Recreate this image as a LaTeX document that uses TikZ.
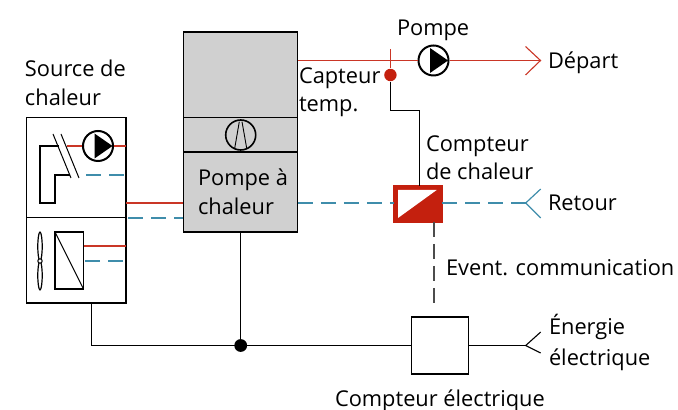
\documentclass[tikz,border=0pt]{standalone}
\usepackage{fontspec}
\setmainfont{Open Sans}
\usetikzlibrary{arrows,shapes,positioning}

\definecolor{heatred}{HTML}{C4200E}
\definecolor{lineblue}{HTML}{3F8DAB}
\definecolor{unitgray}{HTML}{D0D0D0}

\tikzset{
  box/.style={draw, line width=.65pt, inner sep=0pt, outer sep=0pt, anchor=north west},
  label/.style={inner sep=0pt, outer sep=0pt, anchor=base west, align=left,
    font=\fontsize{10.9}{14.5}\selectfont},
  pump/.style={draw, circle, fill=white, line width=1pt, minimum size=15pt, inner sep=0pt},
  hot/.style={draw=heatred!90!white, line width=.55pt},
  cold/.style={draw=lineblue, line width=.6pt, dash pattern=on 7.5pt off 4pt},
  wire/.style={draw, line width=.55pt},
  blade/.style={draw, line width=.6pt}
}

\begin{document}
\begin{tikzpicture}[x=.5pt, y=-.5pt]
  \useasboundingbox (0,0) rectangle (678,410);

  % source de chaleur
  \node [box, minimum width=49.75pt, minimum height=50pt] (srcup) at (26.5,117.5) {};
  \node [box, minimum width=49.75pt, minimum height=42.75pt] (srclow) at (26.5,217.5) {};
  \node [pump] (pumpsrc) at (98,146) {};
  \node [box, minimum width=14.25pt, minimum height=28.5pt] (exch) at (55,232) {};
  \coordinate (fan) at (40,261);
  \coordinate (srcA) at (40,146);
  \coordinate (srcB) at (40,203);
  \coordinate (srcC) at (55,203);
  \coordinate (srcD) at (55,175);
  \coordinate (srcE) at (70,175);
  \coordinate (srcF) at (59,146);
  \coordinate (srcG) at (67,146);
  \draw [wire] (srcF) -- (srcA) -- (srcB) -- (srcC) -- (srcD) -- (srcE);
  \draw [line width=.5pt] (53,134) -- (71,178);
  \draw [line width=.5pt] (61,134) -- (79,178);
  \draw [hot] (srcG) -- (pumpsrc);
  \draw [hot] (pumpsrc) -- (pumpsrc -| srcup.east);
  \draw [cold] (86,175) -- (126,175);
  \draw [line width=.5pt] (exch.north west) -- (exch.south east);
  \draw [blade] (40,246.5) ellipse (1.1pt and 7.2pt);
  \draw [blade] (40,275.5) ellipse (1.1pt and 7.2pt);
  \draw [line width=.5pt, fill=white] (fan) circle (1.1pt);
  \draw [hot] (exch.east |- 0,246) -- (srclow.east |- 0,246);
  \draw [cold] (85,261) -- (126,261);

  % pompe a chaleur
  \node [box, fill=unitgray, minimum width=57.25pt, minimum height=100pt] (hp) at (183.3,32) {};
  \draw [wire] (hp.west |- 0,117.7) -- (hp.east |- 0,117.7);
  \draw [wire] (hp.west |- 0,152) -- (hp.east |- 0,152);
  \node [draw, circle, line width=.8pt, minimum size=15pt, inner sep=0pt] (comp) at (240.7,135) {};
  \draw [line width=.45pt] (239.3,121.7) -- (234.7,148.3);
  \draw [line width=.45pt] (242,121.7) -- (246.7,148.3);
  \coordinate (hpin) at (hp.west |- 0,203);
  \coordinate (hpcold) at (hp.west |- 0,218);
  \draw [hot] (srcup.east |- hpin) -- (hpin);
  \draw [cold] (128,218) -- (hpcold);

  % depart
  \coordinate (hpout) at (hp.east |- 0,60.5);
  \node [pump] (pumpdep) at (433.5,60.5) {};
  \coordinate (dep) at (540.5,60.5);
  \draw [hot] (hpout) -- (pumpdep);
  \draw [hot] (pumpdep) -- (dep);
  \draw [hot] (525.5,46.5) -- (dep) -- (525.5,75);
  \foreach \p in {pumpsrc, pumpdep}
    \fill (\p) ++(-3.5,-12.5) -- ++(18,12.5) -- ++(-18,12.5) -- cycle;

  % capteur
  \node [circle, fill=heatred, minimum size=6.2pt, inner sep=0pt] (sensor) at (390.4,75) {};
  \draw [hot] (390.4,49) -- (sensor);

  % compteur de chaleur
  \node [box, draw=heatred, fill=heatred, minimum width=24pt, minimum height=18.25pt] (meter) at (394,186) {};
  \fill [white] (398,190) -- (436.7,190) -- (398,218) -- cycle;
  \coordinate (bend) at (419.4,110.4);
  \draw [wire] (sensor) |- (bend) -- (bend |- meter.north);

  % retour
  \coordinate (ret) at (525.7,203);
  \draw [cold] (hp.east |- ret) -- (meter.west |- ret);
  \draw [cold] (meter.east |- ret) -- (ret);
  \draw [draw=lineblue, line width=.6pt] (540.7,189) -- (ret) -- (540.7,218);

  % compteur electrique
  \node [box, minimum width=28.5pt, minimum height=28.5pt] (elec) at (411.7,317) {};
  \coordinate (en) at (525.7,345.5);
  \coordinate (junction) at (240.7,345.5);
  \fill (junction) circle (3.2pt);
  \draw [wire] (91.4,303) |- (elec.west);
  \draw [wire] (240.7,232) -- (junction);
  \draw [wire] (elec.east) -- (en);
  \draw [wire] (540.7,332) -- (en) -- (540.7,353);
  \draw [line width=.8pt, black!70, dash pattern=on 7.5pt off 3.5pt] (434,222) -- (434,308);

  % textes
  \node [label] (tsrc) at (25,77) {Source de};
  \node [label] (tsrcb) at (25,106) {chaleur};
  \node [label] (thp) at (198,186) {Pompe à};
  \node [label] (thpb) at (198,215) {chaleur};
  \node [label] (tpump) at (397,36) {Pompe};
  \node [label] (tdep) at (548,69) {Départ};
  \node [label] (tcap) at (299,84) {Capteur};
  \node [label] (tcapb) at (299,112) {temp.};
  \node [label] (tmeter) at (426,152) {Compteur};
  \node [label] (tmeterb) at (426,180) {de chaleur};
  \node [label] (tret) at (548,211) {Retour};
  \node [label] (tcom) at (446,276) {Event. communication};
  \node [label] (ten) at (549,335) {Énergie};
  \node [label] (tenb) at (549,365) {électrique};
  \node [label] (telec) at (335,406) {Compteur électrique};
\end{tikzpicture}
\end{document}
